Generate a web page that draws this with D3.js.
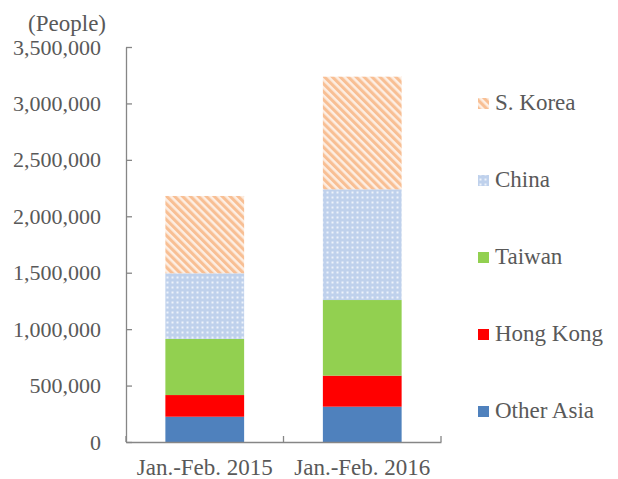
<!DOCTYPE html>
<html>
<head>
<meta charset="utf-8">
<script src="https://cdn.jsdelivr.net/npm/d3@7"></script>
<style>
  body { margin: 0; background: #fff; }
</style>
</head>
<body>
<div class="chart"></div>
<script>
// data
const periods = ["Jan.-Feb. 2015", "Jan.-Feb. 2016"];
const regions = ["Other Asia", "Hong Kong", "Taiwan", "China", "S. Korea"];
const otherAsia = [224000, 313000];
const hongKong = [192000, 275000];
const taiwan = [497000, 670000];
const china = [582000, 981000];
const korea = [685000, 998000];
const yTicks = [0, 500000, 1000000, 1500000, 2000000, 2500000, 3000000, 3500000];

const width = 618, height = 479;
const serif = '"Liberation Serif", "Times New Roman", serif';
const textColor = '#595959';

const rows = periods.map((p, i) => ({
  period: p,
  "Other Asia": otherAsia[i],
  "Hong Kong": hongKong[i],
  "Taiwan": taiwan[i],
  "China": china[i],
  "S. Korea": korea[i]
}));

const svg = d3.select('.chart').append('svg')
  .attr('width', width)
  .attr('height', height);

// fill patterns
const defs = svg.append('defs');
const stripe = defs.append('pattern')
  .attr('id', 'pat-korea')
  .attr('patternUnits', 'userSpaceOnUse')
  .attr('width', 5.6).attr('height', 5.6)
  .attr('patternTransform', 'rotate(-45)');
stripe.append('rect').attr('width', 5.6).attr('height', 5.6).attr('fill', '#fdeee3');
stripe.append('rect').attr('width', 3.1).attr('height', 5.6).attr('fill', '#f8bf94');

const dots = defs.append('pattern')
  .attr('id', 'pat-china')
  .attr('patternUnits', 'userSpaceOnUse')
  .attr('width', 5).attr('height', 5);
dots.append('rect').attr('width', 5).attr('height', 5).attr('fill', '#bfd1ec');
dots.append('rect').attr('x', 1.5).attr('y', 1.5).attr('width', 2).attr('height', 2).attr('fill', '#eef3fb');

const fills = {
  "Other Asia": "#4f81bd",
  "Hong Kong": "#ff0000",
  "Taiwan": "#92d050",
  "China": "url(#pat-china)",
  "S. Korea": "url(#pat-korea)"
};

const xScale = d3.scaleBand()
  .domain(periods)
  .range([126, 441])
  .paddingInner(0.5)
  .paddingOuter(0.25);

const yScale = d3.scaleLinear()
  .domain([0, 3500000])
  .range([442, 47]);

const stacked = d3.stack().keys(regions)(rows);

svg.append('g')
  .selectAll('g')
  .data(stacked)
  .enter()
  .append('g')
  .attr('fill', d => fills[d.key])
  .selectAll('rect')
  .data(d => d)
  .enter()
  .append('rect')
  .attr('x', d => xScale(d.data.period))
  .attr('width', xScale.bandwidth())
  .attr('y', d => yScale(d[1]))
  .attr('height', d => yScale(d[0]) - yScale(d[1]));

// y axis
const yAxis = d3.axisLeft(yScale)
  .tickValues(yTicks)
  .tickFormat(d3.format(','))
  .tickSizeInner(-6)
  .tickSizeOuter(0)
  .tickPadding(25);

const yG = svg.append('g')
  .attr('transform', 'translate(126,0)')
  .call(yAxis)
  .attr('font-family', serif)
  .attr('font-size', 22);
yG.selectAll('path, line').attr('stroke', '#868686').attr('stroke-width', 1.3);
yG.selectAll('text').attr('fill', textColor);

// x axis
const xAxis = d3.axisBottom(xScale)
  .tickSize(0)
  .tickPadding(17);

const xG = svg.append('g')
  .attr('transform', 'translate(0,442)')
  .call(xAxis)
  .attr('font-family', serif)
  .attr('font-size', 23);
xG.select('.domain').attr('stroke', '#868686').attr('stroke-width', 1.5);
xG.selectAll('text').attr('fill', textColor);

// tick marks between categories
const step = xScale.step();
const bounds = [xScale.range()[0]].concat(periods.map(p => xScale(p) + xScale.bandwidth() + step * 0.25));
svg.append('g')
  .selectAll('line')
  .data(bounds)
  .enter()
  .append('line')
  .attr('x1', d => d).attr('x2', d => d)
  .attr('y1', 442).attr('y2', 436)
  .attr('stroke', '#868686')
  .attr('stroke-width', 1.3);

svg.append('text')
  .attr('x', 106)
  .attr('y', 31)
  .attr('text-anchor', 'end')
  .attr('font-family', serif)
  .attr('font-size', 23)
  .attr('fill', textColor)
  .text('(People)');

// legend, top to bottom
const legendItems = regions.slice().reverse();
const legend = svg.selectAll('.legend')
  .data(legendItems)
  .enter()
  .append('g')
  .attr('class', 'legend')
  .attr('transform', (d, i) => 'translate(478,' + (110 + i * 77) + ')');

legend.append('rect')
  .attr('x', 0)
  .attr('y', -12)
  .attr('width', 11)
  .attr('height', 11)
  .attr('fill', d => fills[d]);

legend.append('text')
  .attr('x', 17)
  .attr('y', 0)
  .attr('font-family', serif)
  .attr('font-size', 23)
  .attr('fill', textColor)
  .text(d => d);
</script>
</body>
</html>
